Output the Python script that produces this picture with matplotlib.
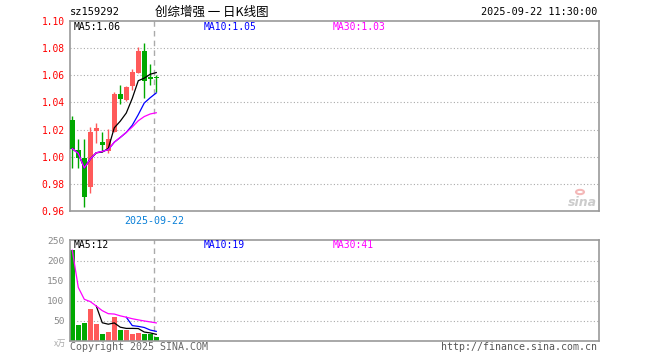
import numpy as np
import matplotlib
matplotlib.use('Agg')
import matplotlib.pyplot as plt

# данные свечей (читаем с картинки)
opens  = [1.027, 1.005, 0.999, 0.978, 1.019, 1.011, 1.004, 1.018, 1.046, 1.042, 1.052, 1.062, 1.0776, 1.0590, 1.0585]
closes = [1.006, 0.999, 0.970, 1.018, 1.0215, 1.0085, 1.0127, 1.046, 1.0425, 1.0515, 1.0622, 1.0776, 1.0556, 1.0570, 1.0578]
highs  = [1.030, 1.013, 1.013, 1.022, 1.0245, 1.018, 1.0206, 1.048, 1.053, 1.052, 1.0647, 1.081, 1.084, 1.068, 1.060]
lows   = [0.992, 0.992, 0.963, 0.973, 1.010, 1.004, 1.0025, 1.018, 1.039, 1.041, 1.0495, 1.062, 1.043, 1.053, 1.048]

ma5  = [1.006, 1.0025, 0.9917, 0.9983, 1.0029, 1.0034, 1.0061, 1.0213, 1.0262, 1.0322, 1.043, 1.056, 1.0579, 1.0608, 1.0620]
ma10 = [1.006, 1.0025, 0.9917, 0.9983, 1.0029, 1.0039, 1.0052, 1.0107, 1.0142, 1.0179, 1.0232, 1.031, 1.0396, 1.0435, 1.0470]
ma30 = [1.006, 1.0025, 0.9917, 0.9983, 1.0029, 1.0039, 1.0052, 1.0107, 1.0142, 1.0179, 1.0219, 1.0265, 1.0296, 1.0315, 1.0324]

# объёмы (x万)
volumes = [227, 41, 45, 81, 43, 18, 23, 61, 27.5, 28, 18, 21, 17.5, 16.5, 10]
vma5  = [227, 134, 104.3, 98.5, 87.4, 45.6, 42, 45.2, 34.5, 31.5, 31.5, 31.1, 22.4, 20.2, 16.6]
vma10 = [227, 134, 104.3, 98.5, 87.4, 75.8, 68.3, 67.4, 62.9, 59.45, 38.55, 36.55, 33.8, 27.35, 24.05]
vma30 = [227, 134, 104.3, 98.5, 87.4, 75.8, 68.3, 67.4, 62.9, 59.45, 55.7, 52.8, 50.1, 47.7, 45.2]

price_ticks = [0.96, 0.98, 1.00, 1.02, 1.04, 1.06, 1.08, 1.10]
vol_ticks = [50, 100, 150, 200, 250]

RED = '#ff5a5a'
GREEN = '#00a800'
BORDER = '#999999'
MONO = 'DejaVu Sans Mono'

x = np.arange(len(opens))
colors = [RED if c >= o else GREEN for o, c in zip(opens, closes)]

fig = plt.figure(figsize=(6.6, 3.6), dpi=100)
ax = fig.add_axes([70/660, 1 - 211/360, 529/660, 190/360])
axv = fig.add_axes([70/660, 1 - 341/360, 529/660, 101/360])

# цена
for p in price_ticks[1:-1]:
    ax.axhline(p, color='#aaaaaa', ls=(0, (1, 2)), lw=0.8, zorder=0)
ax.vlines(x, lows, highs, colors=colors, lw=1, zorder=2)
bodies = [max(abs(c - o), 0.0006) for o, c in zip(opens, closes)]
ax.bar(x, bodies, bottom=[min(o, c) for o, c in zip(opens, closes)],
       width=0.78, color=colors, zorder=3)
ax.plot(x, ma5, color='black', lw=0.9, zorder=4)
ax.plot(x, ma10, color='blue', lw=0.9, zorder=4)
ax.plot(x, ma30, color='#ff00ff', lw=0.9, zorder=5)
ax.axvline(13.7, color='#aaaaaa', ls=(0, (4, 3)), lw=1, zorder=1)
ax.set_xlim(-0.38, 87.8)
ax.set_ylim(0.96, 1.10)
ax.set_xticks([])
ax.set_yticks(price_ticks)
ax.set_yticklabels(['%.2f' % p for p in price_ticks], color='red',
                   fontsize=6.9, family=MONO)
ax.tick_params(axis='y', length=0, pad=4)

# объём
for v in vol_ticks[:-1]:
    axv.axhline(v, color='#aaaaaa', ls=(0, (1, 2)), lw=0.8, zorder=0)
axv.bar(x, volumes, width=0.78, color=colors, zorder=2)
axv.plot(x[4:], vma5[4:], color='black', lw=0.9, zorder=3)
axv.plot(x[9:], vma10[9:], color='blue', lw=0.9, zorder=3)
axv.plot(x, vma30, color='#ff00ff', lw=0.9, zorder=4)
axv.axvline(13.7, color='#aaaaaa', ls=(0, (4, 3)), lw=1, zorder=1)
axv.set_xlim(-0.38, 87.8)
axv.set_ylim(0, 252.5)
axv.set_xticks([])
axv.set_yticks(vol_ticks)
axv.set_yticklabels([str(v) for v in vol_ticks], color='#888888',
                    fontsize=6.8, family=MONO)
axv.tick_params(axis='y', length=0, pad=4)

for a in (ax, axv):
    for s in a.spines.values():
        s.set_color(BORDER)
        s.set_linewidth(1.2)

def ft(xp, yp, s, **kw):
    fig.text(xp/660, 1 - yp/360, s, va='center', **kw)

ft(70, 12, 'sz159292', fontsize=7.5, family=MONO, color='black')
ft(212, 12, '创综增强 一 日K线图', fontsize=9, ha='center',
   family=['Noto Sans CJK SC', 'DejaVu Sans'], color='black')
ft(597, 12, '2025-09-22 11:30:00', fontsize=7.3, ha='right', family=MONO, color='black')

ft(74, 27, 'MA5:1.06', fontsize=7, family=MONO, color='black')
ft(204, 27, 'MA10:1.05', fontsize=7, family=MONO, color='blue')
ft(333, 27, 'MA30:1.03', fontsize=7, family=MONO, color='#ff00ff')

ft(74, 245, 'MA5:12', fontsize=7, family=MONO, color='black')
ft(204, 245, 'MA10:19', fontsize=7, family=MONO, color='blue')
ft(333, 245, 'MA30:41', fontsize=7, family=MONO, color='#ff00ff')

ft(154, 221, '2025-09-22', fontsize=7.2, ha='center', family=MONO, color='#0a80d8')
ft(66, 343, 'x万', fontsize=6, ha='right',
   family=['Noto Sans CJK SC', 'DejaVu Sans'], color='#aaaaaa')
ft(70, 347, 'Copyright 2025 SINA.COM', fontsize=7.2, family=MONO, color='#666666')
ft(597, 347, 'http://finance.sina.com.cn', fontsize=7.1, ha='right', family=MONO, color='#555555')

# логотип sina
ft(597, 203, 'sina', fontsize=9, ha='right', style='italic', weight='bold',
   family='DejaVu Sans', color='#cccccc')
fig.patches.append(plt.Circle((580/660, 1 - 192/360), 0.006, transform=fig.transFigure,
                              color='#f4b8b8', fill=False, lw=1.5))

fig.savefig('out.png', dpi=100)
